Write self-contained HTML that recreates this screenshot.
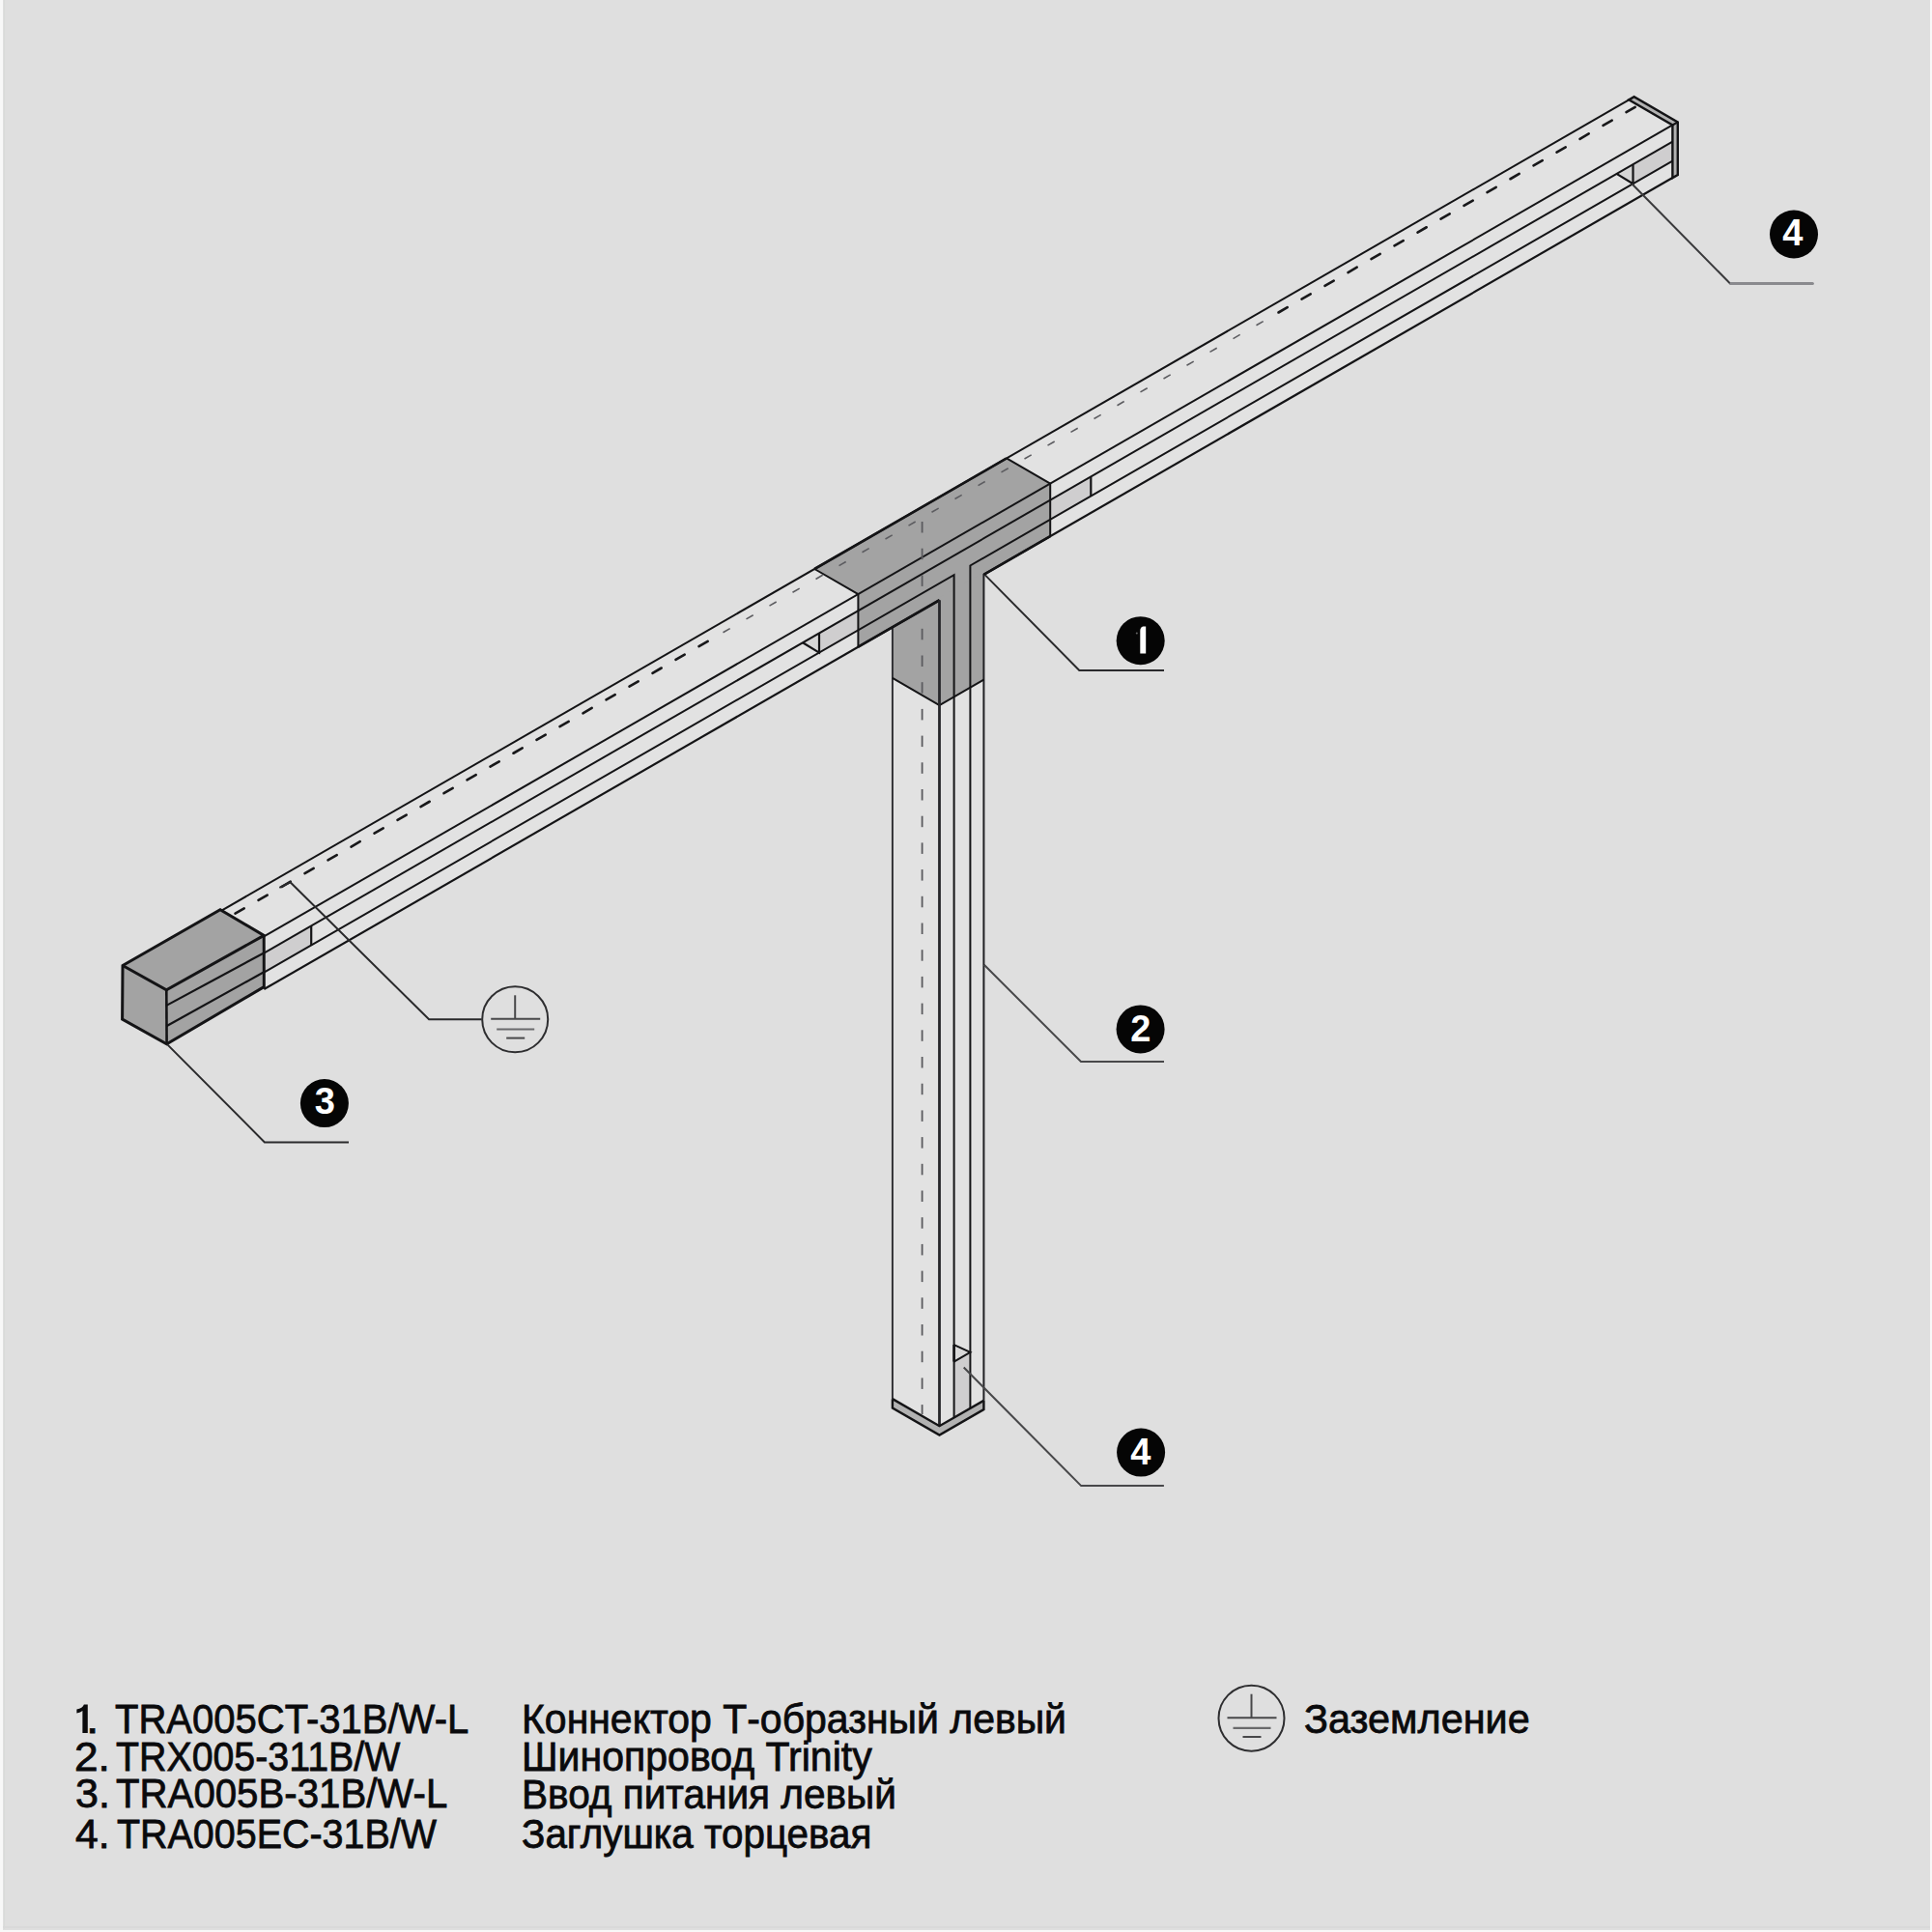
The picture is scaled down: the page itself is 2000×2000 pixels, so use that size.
<!DOCTYPE html>
<html><head><meta charset="utf-8">
<style>
html,body{margin:0;padding:0;width:2000px;height:2000px;overflow:hidden;background:#f8f8f8;}
#pg{position:absolute;left:2.5px;top:0;width:1995.5px;height:1997.5px;background:#dfdfdf;}
svg{position:absolute;left:0;top:0;}
.t{position:absolute;font-family:"Liberation Sans",sans-serif;font-size:43.0px;color:#0a0a0c;white-space:pre;line-height:1;transform-origin:0 0;-webkit-text-stroke:0.8px #0a0a0c;}
</style></head><body>
<div id="pg"></div>
<div style="position:absolute;left:3.5px;top:0;width:1.6px;height:1997px;background:#d9dbd9"></div>
<div style="position:absolute;left:2.5px;top:1994px;width:1995.5px;height:1.5px;background:#d9d9d9"></div>
<svg width="2000" height="2000" viewBox="0 0 2000 2000">
<polygon points="228.10,943.34 1686.20,103.37 1731.40,129.47 1731.40,184.07 273.30,1024.04 273.30,969.44" fill="#e2e2e2" />
<polygon points="273.30,986.54 322.20,958.37 322.20,978.47 273.30,1006.64" fill="#cfcecf" />
<polygon points="848.00,655.47 888.40,632.20 888.40,652.30 848.00,675.57" fill="#cfcecf" />
<polygon points="1087.20,517.67 1129.30,493.42 1129.30,513.52 1087.20,537.77" fill="#cfcecf" />
<polygon points="1690.50,170.13 1731.40,146.57 1731.40,166.67 1690.50,190.23" fill="#cfcecf" />
<polygon points="831.00,665.26 848.00,675.57 848.00,655.47" fill="#d6d6d6" />
<polygon points="1673.50,179.92 1690.50,190.23 1690.50,170.13" fill="#d6d6d6" />
<polygon points="843.20,589.00 1042.00,474.48 1087.20,500.57 1087.20,555.17 888.40,669.70 888.40,615.10" fill="#a3a3a3" />
<polygon points="923.90,698.94 972.50,727.00 1018.40,700.56 1018.40,1449.76 972.50,1476.20 923.90,1448.14" fill="#e2e2e2" />
<polygon points="923.90,647.75 972.50,618.75 1018.40,592.31 1018.40,703.56 972.50,730.00 923.90,701.94" fill="#a3a3a3" />
<polygon points="987.60,1409.55 1004.40,1399.87 1004.40,1457.82 987.60,1467.50" fill="#cfcecf" />
<polygon points="987.60,1392.05 1004.40,1399.87 987.60,1409.55" fill="#d8d8d8" />
<polygon points="923.90,1448.14 972.50,1476.20 1018.40,1449.76 1018.40,1459.16 972.50,1485.60 923.90,1457.54" fill="#b2b2b2" />
<line x1="228.10" y1="943.34" x2="1686.20" y2="103.37" stroke="#141416" stroke-width="2.0" />
<line x1="273.30" y1="969.44" x2="1731.40" y2="129.47" stroke="#141416" stroke-width="2.0" />
<line x1="273.30" y1="986.54" x2="1731.40" y2="146.57" stroke="#141416" stroke-width="2.0" />
<polyline points="273.30,1006.64 987.60,595.15 987.60,1467.50" fill="none" stroke="#141416" stroke-width="2.0" stroke-linejoin="miter" />
<polyline points="1731.40,166.67 1004.40,585.47 1004.40,1457.82" fill="none" stroke="#141416" stroke-width="2.0" stroke-linejoin="miter" />
<line x1="273.30" y1="1024.04" x2="972.50" y2="621.25" stroke="#141416" stroke-width="2.2" />
<line x1="1731.40" y1="184.07" x2="1018.40" y2="594.81" stroke="#141416" stroke-width="2.2" />
<line x1="1018.40" y1="594.01" x2="1018.40" y2="1449.76" stroke="#202024" stroke-width="2.0" />
<line x1="923.90" y1="648.75" x2="923.90" y2="1448.14" stroke="#2c2c30" stroke-width="1.9" />
<polyline points="843.20,589.00 888.40,615.10 888.40,669.70" fill="none" stroke="#141416" stroke-width="2.0" stroke-linejoin="miter" />
<polyline points="1042.00,474.48 1087.20,500.57 1087.20,555.17" fill="none" stroke="#141416" stroke-width="2.0" stroke-linejoin="miter" />
<line x1="843.20" y1="589.00" x2="1042.00" y2="474.48" stroke="#141416" stroke-width="2.6" />
<line x1="888.40" y1="669.70" x2="972.50" y2="621.25" stroke="#141416" stroke-width="2.6" />
<line x1="1018.40" y1="594.81" x2="1087.20" y2="555.17" stroke="#141416" stroke-width="2.6" />
<polyline points="923.90,701.94 972.50,730.00 1018.40,703.56" fill="none" stroke="#141416" stroke-width="2.0" stroke-linejoin="miter" />
<line x1="322.20" y1="958.37" x2="322.20" y2="978.47" stroke="#141416" stroke-width="2.2" />
<polyline points="831.00,665.26 848.00,675.57 848.00,655.47" fill="none" stroke="#141416" stroke-width="2.2" stroke-linejoin="miter" />
<line x1="1129.30" y1="493.42" x2="1129.30" y2="513.52" stroke="#141416" stroke-width="2.2" />
<polyline points="1673.50,179.92 1690.50,190.23 1690.50,170.13" fill="none" stroke="#141416" stroke-width="2.2" stroke-linejoin="miter" />
<polyline points="987.60,1392.05 1004.40,1399.87 987.60,1409.55" fill="none" stroke="#141416" stroke-width="2.0" stroke-linejoin="miter" />
<line x1="987.60" y1="1392.05" x2="987.60" y2="1409.55" stroke="#141416" stroke-width="2.6" />
<line x1="972.50" y1="621.25" x2="972.50" y2="1476.20" stroke="#26262a" stroke-width="2.8" />
<polyline points="923.90,1448.14 972.50,1476.20 1018.40,1449.76" fill="none" stroke="#141416" stroke-width="2.4" stroke-linejoin="miter" />
<polyline points="923.90,1448.14 923.90,1457.54 972.50,1485.60 1018.40,1459.16 1018.40,1449.76" fill="none" stroke="#141416" stroke-width="2.4" stroke-linejoin="miter" />
<polygon points="1686.20,103.37 1691.60,100.26 1736.80,126.36 1736.80,180.96 1731.40,184.07 1731.40,129.47" fill="#b2b2b2" />
<polygon points="1686.20,103.37 1691.60,100.26 1736.80,126.36 1736.80,180.96 1731.40,184.07 1731.40,129.47" fill="none" stroke="#141416" stroke-width="2.4" stroke-linejoin="miter" />
<line x1="1731.40" y1="129.47" x2="1736.80" y2="126.36" stroke="#141416" stroke-width="2.2" />
<polygon points="127.00,999.50 228.00,941.80 273.20,968.40 273.30,1021.60 172.60,1080.70 126.60,1055.00" fill="#a3a3a3" />
<polygon points="127.00,999.50 228.00,941.80 273.20,968.40 273.30,1021.60 172.60,1080.70 126.60,1055.00" fill="none" stroke="#141416" stroke-width="3.0" stroke-linejoin="miter" />
<polyline points="127.00,999.50 172.30,1024.80 273.20,968.40" fill="none" stroke="#141416" stroke-width="3.0" stroke-linejoin="miter" />
<line x1="172.30" y1="1024.80" x2="172.60" y2="1080.70" stroke="#141416" stroke-width="2.6" />
<line x1="172.30" y1="1040.90" x2="273.20" y2="986.50" stroke="#141416" stroke-width="2.2" />
<line x1="172.30" y1="1062.30" x2="273.20" y2="1006.30" stroke="#141416" stroke-width="2.2" />
<line x1="243.50" y1="945.66" x2="252.70" y2="940.36" stroke="#18181a" stroke-width="2.6" stroke-linecap="round"/>
<line x1="267.50" y1="931.83" x2="276.70" y2="926.53" stroke="#18181a" stroke-width="2.6" stroke-linecap="round"/>
<line x1="291.50" y1="918.01" x2="300.70" y2="912.71" stroke="#18181a" stroke-width="2.6" stroke-linecap="round"/>
<line x1="315.50" y1="904.18" x2="324.70" y2="898.88" stroke="#18181a" stroke-width="2.6" stroke-linecap="round"/>
<line x1="339.50" y1="890.36" x2="348.70" y2="885.06" stroke="#18181a" stroke-width="2.6" stroke-linecap="round"/>
<line x1="363.50" y1="876.53" x2="372.70" y2="871.23" stroke="#18181a" stroke-width="2.6" stroke-linecap="round"/>
<line x1="387.50" y1="862.70" x2="396.70" y2="857.40" stroke="#18181a" stroke-width="2.6" stroke-linecap="round"/>
<line x1="411.50" y1="848.88" x2="420.70" y2="843.58" stroke="#18181a" stroke-width="2.6" stroke-linecap="round"/>
<line x1="435.50" y1="835.05" x2="444.70" y2="829.75" stroke="#18181a" stroke-width="2.6" stroke-linecap="round"/>
<line x1="459.50" y1="821.23" x2="468.70" y2="815.93" stroke="#18181a" stroke-width="2.6" stroke-linecap="round"/>
<line x1="483.50" y1="807.40" x2="492.70" y2="802.10" stroke="#18181a" stroke-width="2.6" stroke-linecap="round"/>
<line x1="507.50" y1="793.58" x2="516.70" y2="788.28" stroke="#18181a" stroke-width="2.6" stroke-linecap="round"/>
<line x1="531.50" y1="779.75" x2="540.70" y2="774.45" stroke="#18181a" stroke-width="2.6" stroke-linecap="round"/>
<line x1="555.50" y1="765.92" x2="564.70" y2="760.62" stroke="#18181a" stroke-width="2.6" stroke-linecap="round"/>
<line x1="579.50" y1="752.10" x2="588.70" y2="746.80" stroke="#18181a" stroke-width="2.6" stroke-linecap="round"/>
<line x1="603.50" y1="738.27" x2="612.70" y2="732.97" stroke="#18181a" stroke-width="2.6" stroke-linecap="round"/>
<line x1="627.50" y1="724.45" x2="636.70" y2="719.15" stroke="#18181a" stroke-width="2.6" stroke-linecap="round"/>
<line x1="651.50" y1="710.62" x2="660.70" y2="705.32" stroke="#18181a" stroke-width="2.6" stroke-linecap="round"/>
<line x1="675.50" y1="696.80" x2="684.70" y2="691.50" stroke="#18181a" stroke-width="2.6" stroke-linecap="round"/>
<line x1="699.50" y1="682.97" x2="708.70" y2="677.67" stroke="#18181a" stroke-width="2.6" stroke-linecap="round"/>
<line x1="723.50" y1="669.15" x2="732.70" y2="663.85" stroke="#18181a" stroke-width="2.6" stroke-linecap="round"/>
<line x1="748.50" y1="654.74" x2="755.70" y2="650.60" stroke="#5c5c60" stroke-width="1.6" />
<line x1="772.50" y1="640.92" x2="779.70" y2="636.77" stroke="#5c5c60" stroke-width="1.6" />
<line x1="796.50" y1="627.09" x2="803.70" y2="622.94" stroke="#5c5c60" stroke-width="1.6" />
<line x1="820.50" y1="613.27" x2="827.70" y2="609.12" stroke="#5c5c60" stroke-width="1.6" />
<line x1="844.50" y1="599.44" x2="851.70" y2="595.29" stroke="#5c5c60" stroke-width="1.6" />
<line x1="868.50" y1="585.61" x2="875.70" y2="581.47" stroke="#5c5c60" stroke-width="1.6" />
<line x1="892.50" y1="571.79" x2="899.70" y2="567.64" stroke="#5c5c60" stroke-width="1.6" />
<line x1="916.50" y1="557.96" x2="923.70" y2="553.82" stroke="#5c5c60" stroke-width="1.6" />
<line x1="940.50" y1="544.14" x2="947.70" y2="539.99" stroke="#5c5c60" stroke-width="1.6" />
<line x1="964.50" y1="530.31" x2="971.70" y2="526.16" stroke="#5c5c60" stroke-width="1.6" />
<line x1="988.50" y1="516.49" x2="995.70" y2="512.34" stroke="#5c5c60" stroke-width="1.6" />
<line x1="1012.50" y1="502.66" x2="1019.70" y2="498.51" stroke="#5c5c60" stroke-width="1.6" />
<line x1="1036.50" y1="488.84" x2="1043.70" y2="484.69" stroke="#5c5c60" stroke-width="1.6" />
<line x1="1060.50" y1="475.01" x2="1067.70" y2="470.86" stroke="#5c5c60" stroke-width="1.6" />
<line x1="1084.50" y1="461.18" x2="1091.70" y2="457.04" stroke="#5c5c60" stroke-width="1.6" />
<line x1="1108.50" y1="447.36" x2="1115.70" y2="443.21" stroke="#5c5c60" stroke-width="1.6" />
<line x1="1132.50" y1="433.53" x2="1139.70" y2="429.38" stroke="#5c5c60" stroke-width="1.6" />
<line x1="1156.50" y1="419.71" x2="1163.70" y2="415.56" stroke="#5c5c60" stroke-width="1.6" />
<line x1="1180.50" y1="405.88" x2="1187.70" y2="401.73" stroke="#5c5c60" stroke-width="1.6" />
<line x1="1204.50" y1="392.06" x2="1211.70" y2="387.91" stroke="#5c5c60" stroke-width="1.6" />
<line x1="1228.50" y1="378.23" x2="1235.70" y2="374.08" stroke="#5c5c60" stroke-width="1.6" />
<line x1="1252.50" y1="364.40" x2="1259.70" y2="360.26" stroke="#5c5c60" stroke-width="1.6" />
<line x1="1276.50" y1="350.58" x2="1283.70" y2="346.43" stroke="#5c5c60" stroke-width="1.6" />
<line x1="1300.50" y1="336.75" x2="1307.70" y2="332.60" stroke="#5c5c60" stroke-width="1.6" />
<line x1="1323.50" y1="323.50" x2="1332.70" y2="318.20" stroke="#18181a" stroke-width="2.6" stroke-linecap="round"/>
<line x1="1347.50" y1="309.68" x2="1356.70" y2="304.38" stroke="#18181a" stroke-width="2.6" stroke-linecap="round"/>
<line x1="1371.50" y1="295.85" x2="1380.70" y2="290.55" stroke="#18181a" stroke-width="2.6" stroke-linecap="round"/>
<line x1="1395.50" y1="282.03" x2="1404.70" y2="276.73" stroke="#18181a" stroke-width="2.6" stroke-linecap="round"/>
<line x1="1419.50" y1="268.20" x2="1428.70" y2="262.90" stroke="#18181a" stroke-width="2.6" stroke-linecap="round"/>
<line x1="1443.50" y1="254.37" x2="1452.70" y2="249.07" stroke="#18181a" stroke-width="2.6" stroke-linecap="round"/>
<line x1="1467.50" y1="240.55" x2="1476.70" y2="235.25" stroke="#18181a" stroke-width="2.6" stroke-linecap="round"/>
<line x1="1491.50" y1="226.72" x2="1500.70" y2="221.42" stroke="#18181a" stroke-width="2.6" stroke-linecap="round"/>
<line x1="1515.50" y1="212.90" x2="1524.70" y2="207.60" stroke="#18181a" stroke-width="2.6" stroke-linecap="round"/>
<line x1="1539.50" y1="199.07" x2="1548.70" y2="193.77" stroke="#18181a" stroke-width="2.6" stroke-linecap="round"/>
<line x1="1563.50" y1="185.25" x2="1572.70" y2="179.95" stroke="#18181a" stroke-width="2.6" stroke-linecap="round"/>
<line x1="1587.50" y1="171.42" x2="1596.70" y2="166.12" stroke="#18181a" stroke-width="2.6" stroke-linecap="round"/>
<line x1="1611.50" y1="157.59" x2="1620.70" y2="152.30" stroke="#18181a" stroke-width="2.6" stroke-linecap="round"/>
<line x1="1635.50" y1="143.77" x2="1644.70" y2="138.47" stroke="#18181a" stroke-width="2.6" stroke-linecap="round"/>
<line x1="1659.50" y1="129.94" x2="1668.70" y2="124.64" stroke="#18181a" stroke-width="2.6" stroke-linecap="round"/>
<line x1="1683.50" y1="116.12" x2="1692.70" y2="110.82" stroke="#18181a" stroke-width="2.6" stroke-linecap="round"/>
<line x1="954.60" y1="540.00" x2="954.60" y2="551.50" stroke="#5a5a5e" stroke-width="1.8"/>
<line x1="954.60" y1="567.70" x2="954.60" y2="579.20" stroke="#5a5a5e" stroke-width="1.8"/>
<line x1="954.60" y1="595.40" x2="954.60" y2="606.90" stroke="#5a5a5e" stroke-width="1.8"/>
<line x1="954.60" y1="650.80" x2="954.60" y2="662.30" stroke="#5a5a5e" stroke-width="1.8"/>
<line x1="954.60" y1="678.50" x2="954.60" y2="690.00" stroke="#5a5a5e" stroke-width="1.8"/>
<line x1="954.60" y1="706.20" x2="954.60" y2="717.70" stroke="#5a5a5e" stroke-width="1.8"/>
<line x1="954.60" y1="733.90" x2="954.60" y2="745.40" stroke="#5a5a5e" stroke-width="1.8"/>
<line x1="954.60" y1="761.60" x2="954.60" y2="773.10" stroke="#5a5a5e" stroke-width="1.8"/>
<line x1="954.60" y1="789.30" x2="954.60" y2="800.80" stroke="#5a5a5e" stroke-width="1.8"/>
<line x1="954.60" y1="817.00" x2="954.60" y2="828.50" stroke="#5a5a5e" stroke-width="1.8"/>
<line x1="954.60" y1="844.70" x2="954.60" y2="856.20" stroke="#5a5a5e" stroke-width="1.8"/>
<line x1="954.60" y1="872.40" x2="954.60" y2="883.90" stroke="#5a5a5e" stroke-width="1.8"/>
<line x1="954.60" y1="900.10" x2="954.60" y2="911.60" stroke="#5a5a5e" stroke-width="1.8"/>
<line x1="954.60" y1="927.80" x2="954.60" y2="939.30" stroke="#5a5a5e" stroke-width="1.8"/>
<line x1="954.60" y1="955.50" x2="954.60" y2="967.00" stroke="#5a5a5e" stroke-width="1.8"/>
<line x1="954.60" y1="983.20" x2="954.60" y2="994.70" stroke="#5a5a5e" stroke-width="1.8"/>
<line x1="954.60" y1="1010.90" x2="954.60" y2="1022.40" stroke="#5a5a5e" stroke-width="1.8"/>
<line x1="954.60" y1="1038.60" x2="954.60" y2="1050.10" stroke="#5a5a5e" stroke-width="1.8"/>
<line x1="954.60" y1="1066.30" x2="954.60" y2="1077.80" stroke="#5a5a5e" stroke-width="1.8"/>
<line x1="954.60" y1="1094.00" x2="954.60" y2="1105.50" stroke="#5a5a5e" stroke-width="1.8"/>
<line x1="954.60" y1="1121.70" x2="954.60" y2="1133.20" stroke="#5a5a5e" stroke-width="1.8"/>
<line x1="954.60" y1="1149.40" x2="954.60" y2="1160.90" stroke="#5a5a5e" stroke-width="1.8"/>
<line x1="954.60" y1="1177.10" x2="954.60" y2="1188.60" stroke="#5a5a5e" stroke-width="1.8"/>
<line x1="954.60" y1="1204.80" x2="954.60" y2="1216.30" stroke="#5a5a5e" stroke-width="1.8"/>
<line x1="954.60" y1="1232.50" x2="954.60" y2="1244.00" stroke="#5a5a5e" stroke-width="1.8"/>
<line x1="954.60" y1="1260.20" x2="954.60" y2="1271.70" stroke="#5a5a5e" stroke-width="1.8"/>
<line x1="954.60" y1="1287.90" x2="954.60" y2="1299.40" stroke="#5a5a5e" stroke-width="1.8"/>
<line x1="954.60" y1="1315.60" x2="954.60" y2="1327.10" stroke="#5a5a5e" stroke-width="1.8"/>
<line x1="954.60" y1="1343.30" x2="954.60" y2="1354.80" stroke="#5a5a5e" stroke-width="1.8"/>
<line x1="954.60" y1="1371.00" x2="954.60" y2="1382.50" stroke="#5a5a5e" stroke-width="1.8"/>
<line x1="954.60" y1="1398.70" x2="954.60" y2="1410.20" stroke="#5a5a5e" stroke-width="1.8"/>
<line x1="954.60" y1="1426.40" x2="954.60" y2="1437.90" stroke="#5a5a5e" stroke-width="1.8"/>
<line x1="954.60" y1="1454.10" x2="954.60" y2="1464.00" stroke="#5a5a5e" stroke-width="1.8"/>
<polyline points="1019.90,595.40 1117.30,693.90 1205.00,693.90" fill="none" stroke="#2a2a2c" stroke-width="2.0" stroke-linejoin="miter" />
<circle cx="1180.7" cy="663.2" r="25.0" fill="#050505"/><path d="M1180.30,676.60 L1186.20,676.60 L1186.20,648.60 L1183.30,648.60 Q1180.30,649.40 1180.30,653.00 Z" fill="#fff"/><circle cx="1176.80" cy="655.50" r="1.0" fill="#666"/>
<polyline points="1018.80,998.80 1119.00,1099.00 1205.00,1099.00" fill="none" stroke="#48484a" stroke-width="2.0" stroke-linejoin="miter" />
<circle cx="1180.6" cy="1065.4" r="25.0" fill="#050505"/><text x="1170.15" y="1077.61" font-family="Liberation Sans" font-weight="bold" font-size="38.0" fill="#fff">2</text>
<polyline points="997.70,1415.50 1119.20,1538.10 1204.90,1538.10" fill="none" stroke="#48484a" stroke-width="2.0" stroke-linejoin="miter" />
<circle cx="1181.1" cy="1503.6" r="25.0" fill="#050505"/><text x="1170.27" y="1515.80" font-family="Liberation Sans" font-weight="bold" font-size="38.0" fill="#fff">4</text>
<polyline points="173.10,1081.10 273.90,1182.40 361.00,1182.40" fill="none" stroke="#2a2a2c" stroke-width="2.0" stroke-linejoin="miter" />
<circle cx="335.9" cy="1142.1" r="25.0" fill="#050505"/><text x="325.64" y="1152.70" font-family="Liberation Sans" font-weight="bold" font-size="38.0" fill="#fff">3</text>
<polyline points="1689.30,190.20 1791.00,293.50 1793.00,293.50" fill="none" stroke="#3a3a3c" stroke-width="2.0" stroke-linejoin="miter" />
<line x1="1792.00" y1="293.50" x2="1876.40" y2="293.50" stroke="#8a8a8e" stroke-width="3.0" stroke-linecap="round"/>
<circle cx="1857.0" cy="242.5" r="25.0" fill="#050505"/><text x="1845.17" y="253.90" font-family="Liberation Sans" font-weight="bold" font-size="38.0" fill="#fff">4</text>
<polyline points="289.30,918.90 300.50,913.30 444.10,1055.30 498.70,1055.30" fill="none" stroke="#2a2a2c" stroke-width="2.0" stroke-linejoin="miter" />
<circle cx="533.2" cy="1055.3" r="34" fill="none" stroke="#2e2e30" stroke-width="2"/><line x1="533.2" y1="1030.3" x2="533.2" y2="1054.8" stroke="#48484a" stroke-width="2"/><line x1="508.20000000000005" y1="1054.8" x2="559.2" y2="1054.8" stroke="#48484a" stroke-width="2"/><line x1="514.2" y1="1065.5" x2="553.2" y2="1065.5" stroke="#6a6a6c" stroke-width="2.2"/><line x1="524.2" y1="1074.6" x2="543.2" y2="1074.6" stroke="#48484a" stroke-width="2"/>
<circle cx="1295.5" cy="1778.7" r="34" fill="none" stroke="#2e2e30" stroke-width="2"/><line x1="1295.5" y1="1753.7" x2="1295.5" y2="1778.2" stroke="#48484a" stroke-width="2"/><line x1="1270.5" y1="1778.2" x2="1321.5" y2="1778.2" stroke="#48484a" stroke-width="2"/><line x1="1276.5" y1="1788.9" x2="1315.5" y2="1788.9" stroke="#6a6a6c" stroke-width="2.2"/><line x1="1286.5" y1="1798.0" x2="1305.5" y2="1798.0" stroke="#48484a" stroke-width="2"/>
</svg>
<svg style="position:absolute;left:0;top:0" width="200" height="1900" viewBox="0 0 200 1900"><path d="M85.4,1794 L90.8,1794 L90.8,1764.4 L86.9,1764.4 Q85.6,1768.2 79.4,1769.4 L79.4,1773.6 Q83.6,1772.8 85.4,1771.0 Z" fill="#0a0a0c"/></svg>
<div class="t" style="left:89.28px;top:1758.03px;transform:scaleX(1.1163)">.</div>
<div class="t" style="left:118.90px;top:1758.03px;transform:scaleX(0.9307)">TRA005CT-31B/W-L</div>
<div class="t" style="left:77.19px;top:1796.73px;transform:scaleX(1.0280)">2.</div>
<div class="t" style="left:120.41px;top:1796.73px;transform:scaleX(0.9143)">TRX005-311B/W</div>
<div class="t" style="left:78.08px;top:1835.43px;transform:scaleX(1.0000)">3.</div>
<div class="t" style="left:119.90px;top:1835.43px;transform:scaleX(0.9349)">TRA005B-31B/W-L</div>
<div class="t" style="left:78.45px;top:1876.83px;transform:scaleX(0.9916)">4.</div>
<div class="t" style="left:121.01px;top:1876.83px;transform:scaleX(0.9169)">TRA005EC-31B/W</div>
<div class="t" style="left:539.72px;top:1758.13px;transform:scaleX(0.9523)">Коннектор Т-образный левый</div>
<div class="t" style="left:539.72px;top:1797.23px;transform:scaleX(0.9544)">Шинопровод Trinity</div>
<div class="t" style="left:539.75px;top:1835.73px;transform:scaleX(0.9433)">Ввод питания левый</div>
<div class="t" style="left:539.89px;top:1877.03px;transform:scaleX(0.9386)">Заглушка торцевая</div>
<div class="t" style="left:1350.14px;top:1757.83px;transform:scaleX(0.9624)">Заземление</div>
</body></html>
